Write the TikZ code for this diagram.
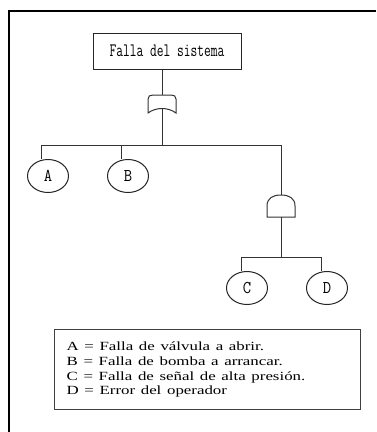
\documentclass[tikz,border=0pt]{standalone}
\usepackage{fontspec}
\usepackage{graphicx}
\setmainfont{Liberation Serif}
\usetikzlibrary{shapes.geometric}

\newcommand{\angosto}[2]{\scalebox{#1}[1]{#2}}

\tikzset{
  linea/.style={draw=black!80, line width=1pt},
  caja/.style={draw=black!85, line width=1pt, minimum width=148pt, minimum height=36pt, inner sep=0pt, font=\ttfamily\fontsize{19}{21}\selectfont},
  evento/.style={ellipse, draw=black!85, line width=1pt, minimum width=41pt, minimum height=33pt, inner sep=0pt, font=\ttfamily\fontsize{18}{20}\selectfont},
  leyenda/.style={draw=black!75, line width=1.3pt, minimum width=306pt, minimum height=80pt, text width=282pt, inner xsep=12pt, align=left, font=\fontsize{12.5}{14.7}\selectfont},
  puerta o/.pic={
    \draw[linea] (-14,9) -- (-14,-5) .. controls (-14,-8) and (-12,-9) .. (-9,-9) -- (9,-9) .. controls (12,-9) and (14,-8) .. (14,-5) -- (14,9) .. controls (6,3) and (-6,3) .. cycle;
    \coordinate (-top) at (0,-9);
    \coordinate (-bot) at (0,4.5);
  },
  puerta y/.pic={
    \draw[linea] (-14,11) -- (-14,0) .. controls (-14,-8) and (-8,-11) .. (0,-11) .. controls (8,-11) and (14,-8) .. (14,0) -- (14,11) -- cycle;
    \coordinate (-top) at (0,-11);
    \coordinate (-bot) at (0,11);
  }
}

\begin{document}
\begin{tikzpicture}[x=1pt, y=-1pt]
\useasboundingbox (0,0) rectangle (376,432);
\draw[line width=2pt] (376,11) -- (9,11) -- (9,432);

\node[caja] (sistema) at (167,51) {\angosto{0.69}{Falla del sistema}};
\pic (g1) at (162,104) {puerta o};
\pic (g2) at (281,206) {puerta y};

\node[evento] (A) at (48,176) {\angosto{0.9}{A}};
\node[evento] (B) at (128,176) {\angosto{0.9}{B}};
\node[evento] (C) at (247,288) {\angosto{0.9}{C}};
\node[evento] (D) at (327,288) {\angosto{0.9}{D}};

\coordinate (n1) at (162,145);
\coordinate (sA) at (41,145);
\coordinate (sB) at (121,145);
\coordinate (s2) at (281,145);
\coordinate (n2) at (281,257);
\coordinate (sC) at (241,257);
\coordinate (sD) at (321,257);

\draw[linea] (g1-top |- sistema.south) -- (g1-top);
\draw[linea] (g1-bot) -- (n1);
\draw[linea] (sA |- A.north) -- (sA) -- (s2) -- (g2-top);
\draw[linea] (sB) -- (sB |- B.north);
\draw[linea] (g2-bot) -- (n2);
\draw[linea] (sC |- C.north) -- (sC) -- (sD) -- (sD |- D.north);

\node[leyenda, anchor=north west] (ley) at (54,329) {\angosto{1.35}{A = Falla de válvula a abrir.}\\
\angosto{1.35}{B = Falla de bomba a arrancar.}\\
\angosto{1.35}{C = Falla de señal de alta presión.}\\
\angosto{1.35}{D = Error del operador}};
\end{tikzpicture}
\end{document}
